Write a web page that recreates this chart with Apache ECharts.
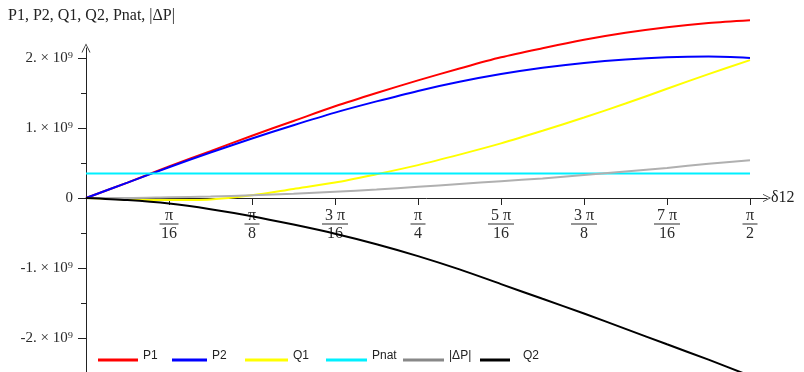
<!DOCTYPE html>
<html>
<head>
<meta charset="utf-8">
<script src="https://cdn.jsdelivr.net/npm/echarts@6/dist/echarts.min.js"></script>
<style>
html,body{margin:0;padding:0;background:#fff;}
#chart{width:804px;height:372px;}
</style>
</head>
<body>
<div id="chart"></div>
<script>
// δ12 sample points, in multiples of π/32 (0 .. π/2)
const deltaSteps = [0,1,2,3,4,5,6,7,8,9,10,11,12,13,14,15,16];
// values in units of 10^9
const P1   = [0, 0.22, 0.45, 0.67, 0.89, 1.10, 1.31, 1.50, 1.68, 1.85, 2.01, 2.14, 2.26, 2.36, 2.44, 2.50, 2.54];
const P2   = [0, 0.22, 0.44, 0.65, 0.85, 1.04, 1.22, 1.38, 1.53, 1.66, 1.77, 1.86, 1.93, 1.98, 2.01, 2.02, 2.00];
const Q1   = [0, -0.02, -0.03, -0.02, 0.04, 0.13, 0.22, 0.34, 0.47, 0.62, 0.78, 0.96, 1.15, 1.35, 1.56, 1.77, 1.97];
const Pnat = [0.35, 0.35, 0.35, 0.35, 0.35, 0.35, 0.35, 0.35, 0.35, 0.35, 0.35, 0.35, 0.35, 0.35, 0.35, 0.35, 0.35];
const dP   = [0, 0.00, 0.01, 0.02, 0.04, 0.06, 0.09, 0.12, 0.16, 0.20, 0.24, 0.28, 0.33, 0.38, 0.43, 0.49, 0.54];
const Q2   = [0, -0.03, -0.08, -0.16, -0.26, -0.38, -0.51, -0.66, -0.83, -1.02, -1.23, -1.44, -1.65, -1.87, -2.09, -2.31, -2.54];

// x tick labels (fractions of π), at multiples of π/16
const xTickSteps = [1,2,3,4,5,6,7,8];
const xTickNum = ['π','π','3 π','π','5 π','3 π','7 π','π'];
const xTickDen = ['16','8','16','4','16','8','16','2'];
// y tick labels
const yTickVals = [-2, -1, 0, 1, 2];
const yTickLabels = ['-2. × 10⁹', '-1. × 10⁹', '0', '1. × 10⁹', '2. × 10⁹'];
const yMinorVals = [-1.5, -0.5, 0.5, 1.5];

const seriesNames = ['P1','P2','Q1','Pnat','|ΔP|','Q2'];
const seriesData = [P1, P2, Q1, Pnat, dP, Q2];
const seriesColors = ['#ff0000','#0000ff','#ffff00','#00f0ff','#b0b0b0','#000000'];
// legend entry layout (left edge of the sample line, its length, extra gap before the label)
const legendLeft = [98, 172, 245, 326, 403, 480];
const legendLineLen = [40, 35, 43, 41, 41, 30];
const legendTextGap = [0, 0, 0, 0, 0, 8];

const xVals = deltaSteps.map(k => k * Math.PI / 32);
const xTickVals = xTickSteps.map(k => k * Math.PI / 16);

const serif = 'Liberation Serif';
const textColor = '#2a2a2a';

const Y_MIN = -2.486, Y_MAX = 2.143;
const GRID_TOP = 48, GRID_BOTTOM_PX = 372;
// offset that moves the x axis onto y = 0
const zeroOffset = -(GRID_BOTTOM_PX - GRID_TOP) * (0 - Y_MIN) / (Y_MAX - Y_MIN);

const chart = echarts.init(document.getElementById('chart'), null, {renderer:'canvas'});

function barKey(i){
  return xTickNum[i].length > 1 ? 'barL' : (xTickDen[i].length > 1 ? 'barM' : 'barS');
}

const legends = seriesNames.map((n, i) => ({
  left: legendLeft[i] - 5, top: 345,
  icon: 'rect', itemWidth: legendLineLen[i], itemHeight: 3,
  data: [{name: n, itemStyle: {color: n === '|ΔP|' ? '#888888' : seriesColors[i]}}],
  formatter: '{t|{name}}',
  textStyle: {fontFamily: 'Liberation Sans', fontSize: 12, color: '#222',
    rich: {t: {fontFamily: 'Liberation Sans', fontSize: 12, color: '#222', padding: [0, 0, 8, legendTextGap[i]]}}}
}));

const option = {
  animation: false,
  backgroundColor: '#fff',
  title: {
    text: 'P1, P2, Q1, Q2, Pnat, |ΔP|',
    left: 3, top: 3,
    textStyle: {fontFamily: serif, fontSize: 16, fontWeight: 'normal', color: '#222'}
  },
  legend: legends,
  grid: {left: 86, right: 37, top: GRID_TOP, bottom: 0, containLabel: false, outerBoundsMode: 'none'},
  xAxis: {
    type: 'value', min: 0, max: 1.6110,
    position: 'bottom', offset: zeroOffset,
    axisLine: {onZero: false, lineStyle: {color: '#222', width: 1},
      symbol: ['none', 'path://M5,0L10,10L9,10L5,1.8L1,10L0,10Z'], symbolSize: [8, 12]},
    axisTick: {customValues: xTickVals, length: 7, lineStyle: {color: '#222'}},
    axisLabel: {
      customValues: xTickVals, margin: 10,
      formatter: function(v){
        const i = xTickVals.findIndex(t => Math.abs(t - v) < 1e-6);
        if (i < 0) return '';
        return '{n|' + xTickNum[i] + '}\n{' + barKey(i) + '|}\n{d|' + xTickDen[i] + '}';
      },
      rich: {
        n: {fontFamily: serif, fontSize: 16, lineHeight: 15, color: textColor, align: 'center'},
        d: {fontFamily: serif, fontSize: 16, lineHeight: 17, color: textColor, align: 'center'},
        barS: {width: 15, height: 1, lineHeight: 2, backgroundColor: textColor, align: 'center'},
        barM: {width: 19, height: 1, lineHeight: 2, backgroundColor: textColor, align: 'center'},
        barL: {width: 26, height: 1, lineHeight: 2, backgroundColor: textColor, align: 'center'}
      }
    },
    splitLine: {show: false},
    name: 'δ12', nameLocation: 'end', nameGap: 4,
    nameTextStyle: {fontFamily: serif, fontSize: 16, color: '#222', padding: [16,0,0,0]}
  },
  yAxis: [{
    type: 'value', min: Y_MIN, max: Y_MAX,
    axisLine: {show: true, onZero: false, lineStyle: {color: '#222', width: 1},
      symbol: ['none', 'path://M5,0L10,10L9,10L5,1.8L1,10L0,10Z'], symbolSize: [9, 12]},
    axisTick: {customValues: yTickVals, length: 8, lineStyle: {color: '#222'}},
    axisLabel: {
      customValues: yTickVals, margin: 13,
      formatter: function(v){
        const i = yTickVals.findIndex(t => Math.abs(t - v) < 1e-6);
        return i < 0 ? '' : yTickLabels[i];
      },
      fontFamily: serif, fontSize: 15, color: textColor
    },
    splitLine: {show: false}
  }, {
    type: 'value', min: Y_MIN, max: Y_MAX, position: 'left',
    axisLine: {show: false},
    axisTick: {show: true, customValues: yMinorVals, length: 5, lineStyle: {color: '#222'}},
    axisLabel: {show: false},
    splitLine: {show: false}
  }],
  series: seriesNames.map((n, si) => ({
    name: n, type: 'line', yAxisIndex: 0,
    data: xVals.map((x, i) => [x, seriesData[si][i]]),
    smooth: 0.3, showSymbol: false, symbol: 'none', clip: false,
    lineStyle: {color: seriesColors[si], width: 2},
    itemStyle: {color: seriesColors[si]},
    z: 2 + si
  }))
};
chart.setOption(option);
</script>
</body>
</html>
